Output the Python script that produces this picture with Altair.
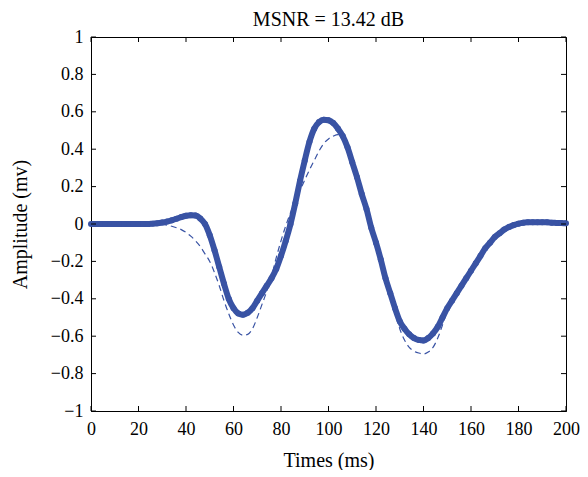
import altair as alt
import pandas as pd

# ---- data ----
times = list(range(0, 201, 2))

noisy_est = [
    0, 0, 0, 0, 0, 0, 0, 0, 0, 0, 0, 0, 0,                 # 0..24
    0.002, 0.004, 0.008, 0.013, 0.02, 0.028, 0.037, 0.044,  # 26..40
    0.047, 0.045, 0.03, 0.0, -0.06, -0.14, -0.23, -0.32,    # 42..56
    -0.40, -0.45, -0.478, -0.485, -0.475, -0.45, -0.41,     # 58..70
    -0.37, -0.33, -0.29, -0.24, -0.17, -0.09, 0.0, 0.11,    # 72..86
    0.23, 0.34, 0.44, 0.51, 0.545, 0.558, 0.555, 0.54,      # 88..102
    0.51, 0.47, 0.41, 0.33, 0.25, 0.16, 0.08, -0.02,        # 104..118
    -0.10, -0.19, -0.29, -0.37, -0.45, -0.52, -0.56, -0.59, # 120..134
    -0.61, -0.62, -0.623, -0.61, -0.585, -0.55, -0.50,      # 136..148
    -0.45, -0.41, -0.37, -0.33, -0.29, -0.25, -0.21, -0.17, # 150..164
    -0.13, -0.10, -0.07, -0.05, -0.03, -0.016, -0.006,      # 166..178
    0.002, 0.007, 0.009, 0.01, 0.01, 0.01, 0.009, 0.007,    # 180..194
    0.006, 0.005, 0.004,                                    # 196..200
]

clean = [
    0, 0, 0, 0, 0, 0, 0, 0, 0, 0, 0, 0, 0, 0, 0,            # 0..28
    -0.002, -0.006, -0.012, -0.02, -0.03, -0.045,           # 30..40
    -0.065, -0.09, -0.12, -0.16, -0.20, -0.26, -0.33,       # 42..54
    -0.41, -0.48, -0.54, -0.58, -0.595, -0.59, -0.56,       # 56..68
    -0.50, -0.43, -0.36, -0.28, -0.18, -0.09, -0.01,        # 70..82
    0.06, 0.12, 0.18, 0.235, 0.29, 0.34, 0.39, 0.43,        # 84..98
    0.455, 0.47, 0.478, 0.472, 0.43, 0.34, 0.25, 0.16,      # 100..114
    0.08, -0.02, -0.10, -0.19, -0.29, -0.38, -0.47, -0.56,  # 116..130
    -0.62, -0.66, -0.68, -0.69, -0.695, -0.685, -0.66,      # 132..144
    -0.61, -0.54, -0.46, -0.41, -0.37, -0.33, -0.29, -0.25, # 146..160
    -0.21, -0.17, -0.13, -0.10, -0.07, -0.05, -0.03,        # 162..174
    -0.016, -0.006, 0.002, 0.007, 0.009, 0.01, 0.01, 0.01,  # 176..190
    0.009, 0.007, 0.006, 0.005, 0.004,                      # 192..200
]

x_ticks = list(range(0, 201, 20))
y_ticks = [-1, -0.8, -0.6, -0.4, -0.2, 0, 0.2, 0.4, 0.6, 0.8, 1]

title_text = "MSNR = 13.42 dB"
x_title = "Times (ms)"
y_title = "Amplitude (mv)"

# ---- build ----
BLUE = "#3953a4"
FONT = "Liberation Serif"
W, H = 475, 374
TICK = 5

df_noisy = pd.DataFrame({"t": times, "amp": noisy_est})
df_clean = pd.DataFrame({"t": times, "amp": clean})
df_xt = pd.DataFrame({"t": x_ticks})
df_yt = pd.DataFrame({"amp": y_ticks})

xscale = alt.Scale(domain=[0, 200], nice=False, zero=False)
yscale = alt.Scale(domain=[-1, 1], nice=False, zero=False)
xaxis = alt.Axis(values=x_ticks, title=x_title, tickSize=0, labelPadding=9,
                 grid=False, titlePadding=12, labelFlush=False, format="d",
                 labelOverlap=False)
yaxis = alt.Axis(values=y_ticks, title=y_title, tickSize=0, labelPadding=8,
                 grid=False, titlePadding=20, labelFlush=False, format="~g",
                 labelOverlap=False)

X = alt.X("t:Q", scale=xscale, axis=xaxis)
Y = alt.Y("amp:Q", scale=yscale, axis=yaxis)

clean_line = alt.Chart(df_clean).mark_line(
    color=BLUE, strokeWidth=1.2, strokeDash=[6, 4], interpolate="monotone"
).encode(x=X, y=Y)

noisy_line = alt.Chart(df_noisy).mark_line(
    color=BLUE, strokeWidth=6, interpolate="monotone"
).encode(x=X, y=Y)

noisy_pts = alt.Chart(df_noisy).mark_circle(
    color=BLUE, size=36, opacity=1
).encode(x=X, y=Y)

bottom_ticks = alt.Chart(df_xt).mark_rule(color="black", strokeWidth=1).encode(
    x=X, y=alt.value(H), y2=alt.value(H - TICK))
top_ticks = alt.Chart(df_xt).mark_rule(color="black", strokeWidth=1).encode(
    x=X, y=alt.value(0), y2=alt.value(TICK))
left_ticks = alt.Chart(df_yt).mark_rule(color="black", strokeWidth=1).encode(
    y=Y, x=alt.value(0), x2=alt.value(TICK))
right_ticks = alt.Chart(df_yt).mark_rule(color="black", strokeWidth=1).encode(
    y=Y, x=alt.value(W - TICK), x2=alt.value(W))

chart = alt.layer(
    clean_line, noisy_line, noisy_pts,
    bottom_ticks, top_ticks, left_ticks, right_ticks,
).properties(
    width=W, height=H,
    title=alt.TitleParams(title_text, font=FONT, fontSize=20, fontWeight="normal",
                          color="black", offset=0, dy=2, anchor="middle"),
    autosize=alt.AutoSizeParams(type="none"),
    padding={"left": 83, "top": 29, "right": 14, "bottom": 59},
).configure_view(
    stroke="black", strokeWidth=1
).configure_axis(
    labelFont=FONT, titleFont=FONT, labelFontSize=18, titleFontSize=20,
    labelColor="black", titleColor="black", titleFontWeight="normal",
    domainColor="black", domainWidth=1,
)

chart.save("out.html", embed_options={"renderer": "svg", "actions": False})
